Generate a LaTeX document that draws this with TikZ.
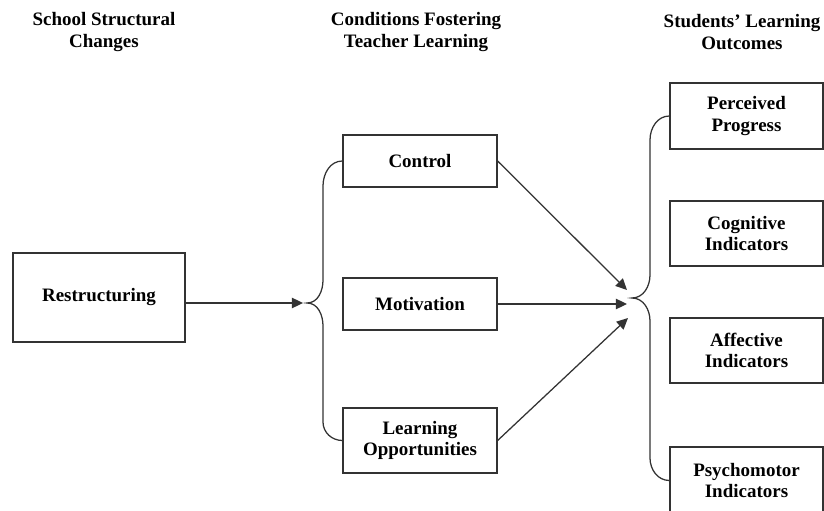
\documentclass[tikz,border=0pt]{standalone}
\usepackage{fontspec}
\setmainfont{Liberation Serif}
\usetikzlibrary{arrows.meta}
\definecolor{LineGray}{HTML}{333333}

\begin{document}
\begin{tikzpicture}[
        box/.style={draw=LineGray, line width=0.9pt, align=center, inner sep=0pt,
            font=\bfseries\fontsize{13.5}{15.5}\selectfont},
        head/.style={align=center, font=\bfseries\fontsize{13.5}{15.5}\selectfont},
        link/.style={draw=LineGray, line width=0.9pt},
        arr/.style={link, -{Triangle[length=8pt,width=7.5pt]}}
    ]
        \useasboundingbox (0,0) rectangle (20.6,12.75);

        % column headings
        \node[head] (h1) at (2.6,11.94) {School Structural\\Changes};
        \node[head] (h2) at (10.4,11.94) {Conditions Fostering\\Teacher Learning};
        \node[head] (h3) at (18.55,11.94) {Students' Learning\\Outcomes};

        % left column
        \node[box, minimum width=4.3cm, minimum height=2.225cm] (res) at (2.475,5.3125) {Restructuring};

        % middle column
        \node[box, minimum width=3.85cm, minimum height=1.3cm] (ctl) at (10.5,8.725) {Control};
        \node[box, minimum width=3.85cm, minimum height=1.3cm] (mot) at (10.5,5.15) {Motivation};
        \node[box, minimum width=3.85cm, minimum height=1.625cm] (lrn) at (10.5,1.7375) {Learning\\Opportunities};

        % right column
        \node[box, minimum width=3.825cm, minimum height=1.65cm] (per) at (18.6625,9.85) {Perceived\\Progress};
        \node[box, minimum width=3.825cm, minimum height=1.625cm] (cog) at (18.6625,6.9125) {Cognitive\\Indicators};
        \node[box, minimum width=3.825cm, minimum height=1.625cm] (aff) at (18.6625,3.9875) {Affective\\Indicators};
        \node[box, minimum width=3.825cm, minimum height=1.675cm] (psy) at (18.6625,0.7375) {Psychomotor\\Indicators};

        % brace tips and arrow ends
        \coordinate (lb) at (7.675,5.175);
        \coordinate (rb) at (15.8,5.3);
        \coordinate (in1) at (15.675,5.5);
        \coordinate (in2) at (15.675,5.15);
        \coordinate (in3) at (15.7,4.8);

        % left brace
        \draw[link] (ctl.west) to[out=180,in=90] (8.075,8.1) -- (8.075,5.75)
            to[out=270,in=0] (lb) to[out=0,in=90] (8.075,4.6)
            -- (8.075,2.2) to[out=270,in=180] (lrn.west);

        % right brace
        \draw[link] (per.west) to[out=180,in=90] (16.25,9.25) -- (16.25,5.875)
            to[out=270,in=0] (rb) to[out=0,in=90] (16.25,4.725)
            -- (16.25,1.3) to[out=270,in=180] (psy.west);

        % arrows
        \draw[arr, shorten >=0.1cm] (res.east |- lb) -- (lb);
        \draw[arr] (ctl.east) -- (in1);
        \draw[arr] (mot.east) -- (in2);
        \draw[arr] (lrn.east) -- (in3);

    \end{tikzpicture}
\end{document}
